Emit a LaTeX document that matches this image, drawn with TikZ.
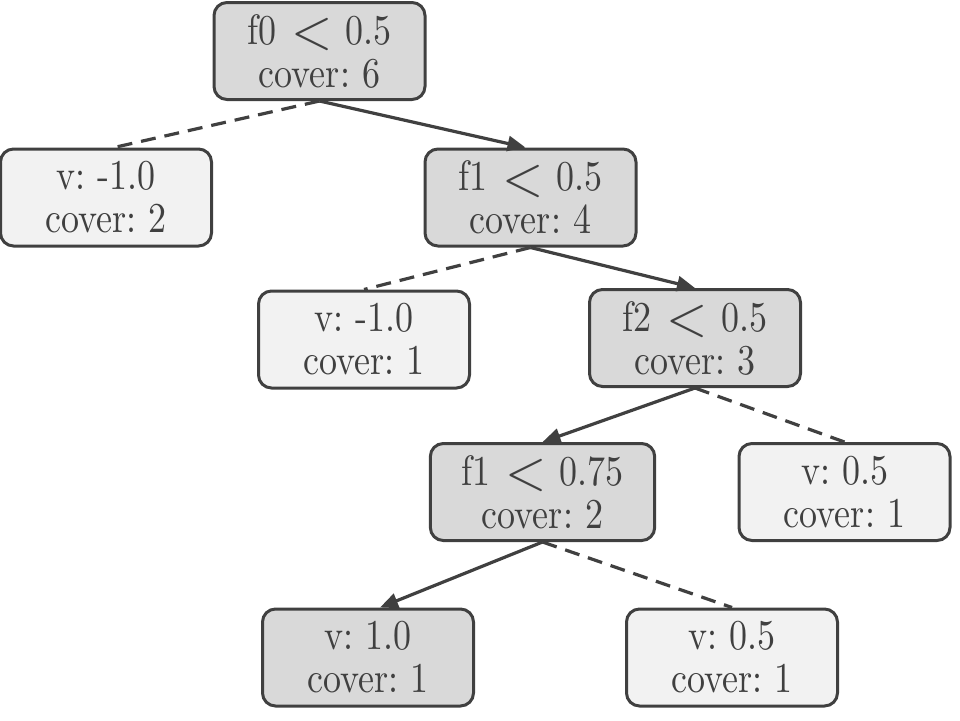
\documentclass[tikz,border=0pt]{standalone}
\usepackage{fontspec}
\setmainfont{lmroman10-regular.otf}[FakeStretch=0.847]
\usetikzlibrary{arrows.meta}
\definecolor{edgec}{HTML}{404040}
\definecolor{inner}{HTML}{D9D9D9}
\definecolor{leaf}{HTML}{F2F2F2}
\newcommand{\lessthan}{\hspace{15pt}\raisebox{-4.5pt}[0pt][0pt]{\scalebox{1.12}[1]{\fontsize{56}{43}\selectfont<}}\hspace{13pt}}
\frenchspacing
\begin{document}
\begin{tikzpicture}[x=1pt,y=-1pt,
  box/.style={draw=edgec, line width=3pt, rounded corners=13pt, minimum width=211pt, minimum height=97pt, inner xsep=31pt, inner ysep=0pt, align=center, text=edgec, font=\fontsize{42.5}{43}\selectfont\frenchspacing},
  split/.style={box, fill=inner},
  leafbox/.style={box, fill=leaf},
  yes/.style={draw=edgec, line width=3.2pt, -{Triangle[length=18pt,width=15pt]}},
  no/.style={draw=edgec, line width=3.2pt, dash pattern=on 15pt off 9pt}]
\useasboundingbox (0,0) rectangle (960,720);
\node[split] (n0) at (319.5,51) {f0\lessthan 0.5\\cover: 6};
\node[leafbox] (n1) at (106,197.5) {v: -1.0\\cover: 2};
\node[split] (n2) at (530.5,197.5) {f1\lessthan 0.5\\cover: 4};
\node[leafbox] (n3) at (364,339.5) {v: -1.0\\cover: 1};
\node[split] (n4) at (695,338) {f2\lessthan 0.5\\cover: 3};
\node[split] (n5) at (542.5,492) {f1\lessthan 0.75\\cover: 2};
\node[leafbox] (n6) at (844.5,492) {v: 0.5\\cover: 1};
\node[split] (n7) at (368,657.5) {v: 1.0\\cover: 1};
\node[leafbox] (n8) at (732,657.5) {v: 0.5\\cover: 1};
\draw[no] (n0.south) -- ([xshift=8pt]n1.north);
\draw[yes] (n0.south) -- ([xshift=-5pt]n2.north);
\draw[no] (n2.south) -- (n3.north);
\draw[yes] (n2.south) -- (n4.north);
\draw[yes] (n4.south) -- (n5.north);
\draw[no] (n4.south) -- (n6.north);
\draw[yes] (n5.south) -- ([xshift=12pt]n7.north);
\draw[no] (n5.south) -- (n8.north);
\end{tikzpicture}
\end{document}
